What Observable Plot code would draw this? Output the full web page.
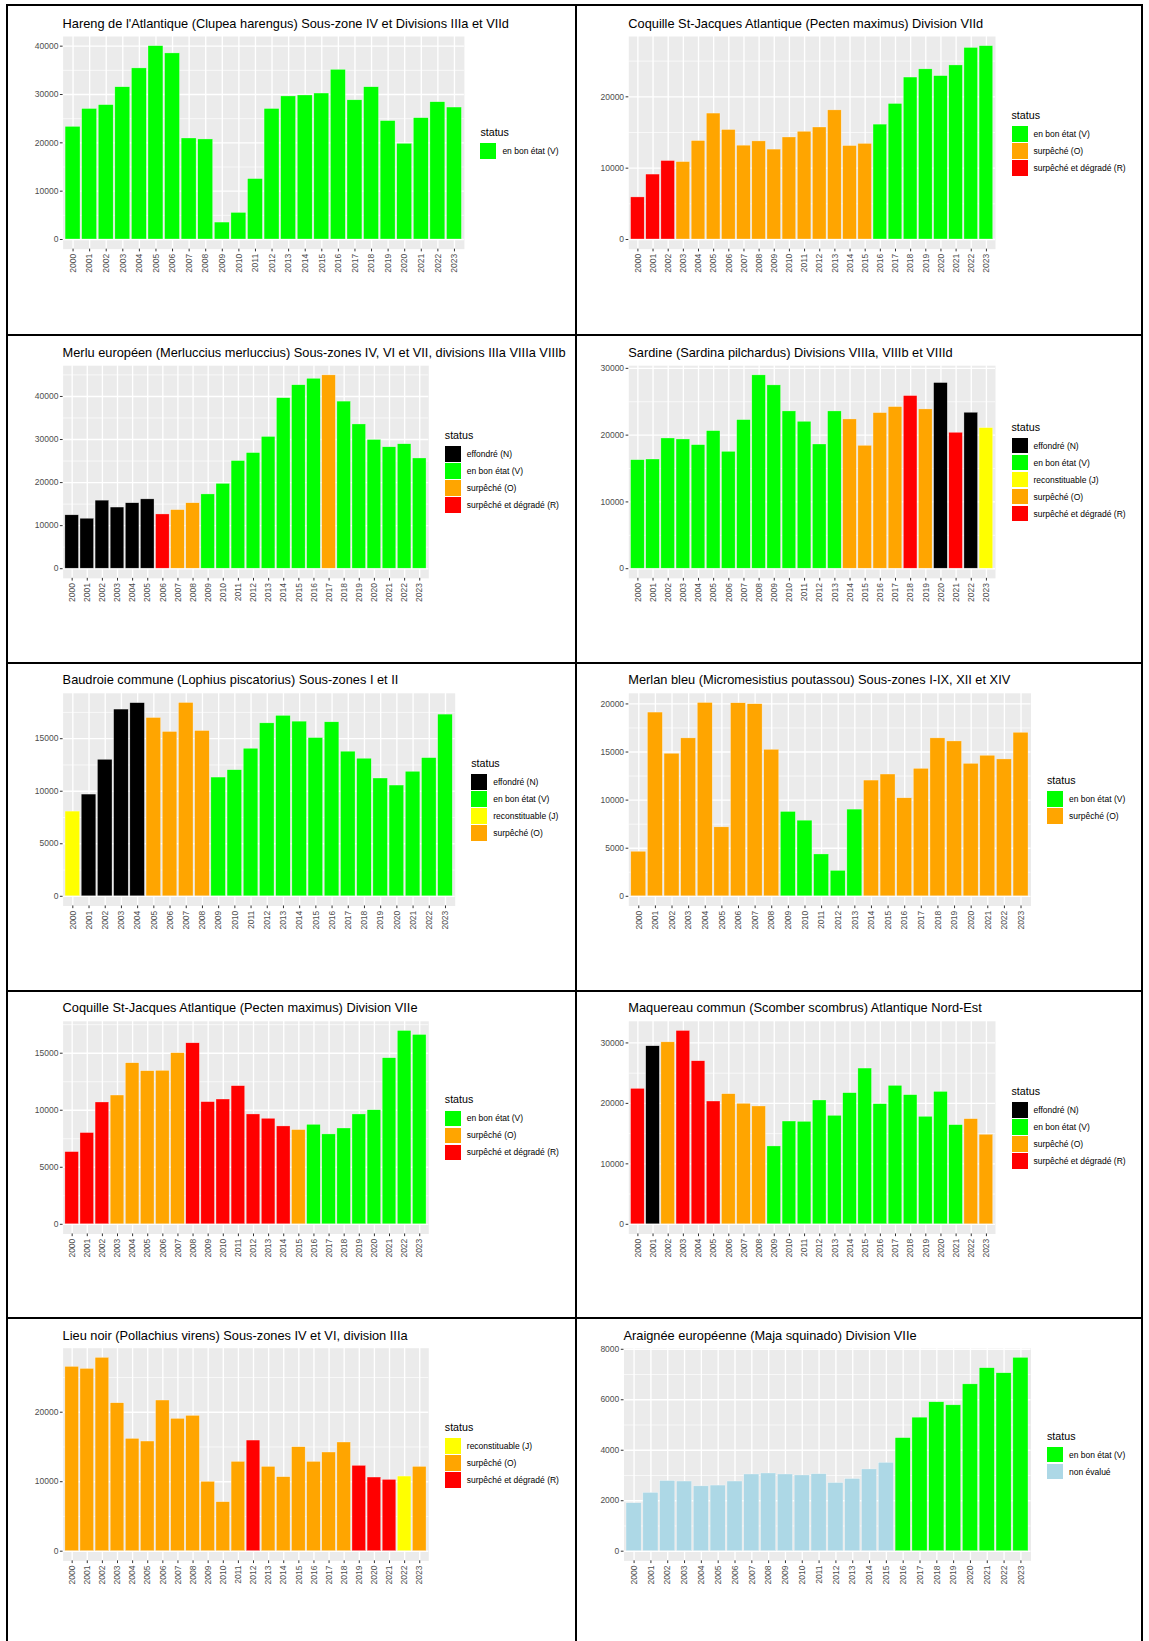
<!DOCTYPE html>
<html lang="fr">
<head>
<meta charset="utf-8">
<script src="https://cdn.jsdelivr.net/npm/d3@7"></script>
<script src="https://cdn.jsdelivr.net/npm/@observablehq/plot@0.6"></script>
<style>
html,body{margin:0;padding:0;background:#fff;}
#page{position:relative;width:1149px;height:1641px;overflow:hidden;background:#fff;font-family:"Liberation Sans",Arial,Helvetica,sans-serif;}
.cell{position:absolute;overflow:hidden;}
.cell svg{position:absolute;left:0;top:0;}
.rule{position:absolute;background:#000;z-index:5;}
.title{position:absolute;font-size:12.8px;line-height:14px;white-space:nowrap;color:#000;}
.lg-title{position:absolute;font-size:10.7px;line-height:12px;color:#000;white-space:nowrap;}
.lg-key{position:absolute;width:16px;height:15.6px;}
.lg-label{position:absolute;font-size:8.5px;line-height:10px;color:#000;white-space:nowrap;}
</style>
</head>
<body>
<div id="page"></div>
<script>
// ---------- DATA ----------
const years = ["2000","2001","2002","2003","2004","2005","2006","2007","2008","2009","2010","2011",
               "2012","2013","2014","2015","2016","2017","2018","2019","2020","2021","2022","2023"];

const statusCodes  = ["N", "V", "NE", "J", "O", "R"];
const statusLabels = ["effondré (N)", "en bon état (V)", "non évalué", "reconstituable (J)", "surpêché (O)", "surpêché et dégradé (R)"];
const statusColors = ["#000000", "#00FF00", "#ADD8E6", "#FFFF00", "#FFA500", "#FF0000"];

const harengTitle = "Hareng de l'Atlantique (Clupea harengus) Sous-zone IV et Divisions IIIa et VIId";
const harengValues = [23300,27000,27800,31500,35400,40000,38500,20900,20700,3500,5500,12500,27000,29600,29800,30200,35100,28800,31500,24500,19800,25100,28400,27300];
const harengStatus = ["V","V","V","V","V","V","V","V","V","V","V","V","V","V","V","V","V","V","V","V","V","V","V","V"];
const harengTicks = [0,10000,20000,30000,40000];

const csjVIIdTitle = "Coquille St-Jacques Atlantique (Pecten maximus) Division VIId";
const csjVIIdValues = [5900,9100,11000,10850,13800,17650,15350,13150,13750,12600,14300,15100,15700,18100,13100,13400,16100,19000,22700,23850,22900,24400,26850,27100];
const csjVIIdStatus = ["R","R","R","O","O","O","O","O","O","O","O","O","O","O","O","O","V","V","V","V","V","V","V","V"];
const csjVIIdTicks = [0,10000,20000];

const merluTitle = "Merlu européen (Merluccius merluccius) Sous-zones IV, VI et VII, divisions IIIa VIIIa VIIIb";
const merluValues = [12400,11600,15800,14200,15200,16100,12600,13600,15200,17250,19700,25000,26850,30600,39600,42600,44100,44900,38800,33500,29900,28200,28900,25600];
const merluStatus = ["N","N","N","N","N","N","R","O","O","V","V","V","V","V","V","V","V","O","V","V","V","V","V","V"];
const merluTicks = [0,10000,20000,30000,40000];

const sardineTitle = "Sardine (Sardina pilchardus) Divisions VIIIa, VIIIb et VIIId";
const sardineValues = [16250,16350,19500,19350,18500,20600,17500,22250,28950,27450,23550,22000,18600,23550,22350,18400,23300,24200,25850,23850,27800,20350,23350,21050];
const sardineStatus = ["V","V","V","V","V","V","V","V","V","V","V","V","V","V","O","O","O","O","R","O","N","R","N","J"];
const sardineTicks = [0,10000,20000,30000];

const baudroieTitle = "Baudroie commune (Lophius piscatorius) Sous-zones I et II";
const baudroieValues = [8060,9680,12990,17770,18380,16970,15640,18400,15730,11300,12000,14040,16460,17170,16620,15060,16560,13760,13090,11210,10540,11850,13150,17290];
const baudroieStatus = ["J","N","N","N","N","O","O","O","O","V","V","V","V","V","V","V","V","V","V","V","V","V","V","V"];
const baudroieTicks = [0,5000,10000,15000];

const merlanTitle = "Merlan bleu (Micromesistius poutassou) Sous-zones I-IX, XII et XIV";
const merlanValues = [4630,19100,14820,16420,20100,7170,20070,19970,15230,8770,7860,4350,2640,9010,12030,12660,10190,13250,16420,16100,13770,14610,14230,17000];
const merlanStatus = ["O","O","O","O","O","O","O","O","O","V","V","V","V","V","O","O","O","O","O","O","O","O","O","O"];
const merlanTicks = [0,5000,10000,15000,20000];

const csjVIIeTitle = "Coquille St-Jacques Atlantique (Pecten maximus) Division VIIe";
const csjVIIeValues = [6330,8000,10680,11290,14120,13420,13450,15000,15870,10710,10940,12110,9630,9250,8580,8260,8720,7880,8400,9630,10000,14560,16950,16600];
const csjVIIeStatus = ["R","R","R","O","O","O","O","O","R","R","R","R","R","R","R","O","V","V","V","V","V","V","V","V"];
const csjVIIeTicks = [0,5000,10000,15000];

const maquereauTitle = "Maquereau commun (Scomber scombrus) Atlantique Nord-Est";
const maquereauValues = [22400,29450,30100,31980,26970,20310,21520,19930,19490,12880,17000,16950,20480,17940,21690,25760,19870,22900,21360,17780,21900,16400,17390,14810];
const maquereauStatus = ["R","N","O","R","R","R","O","O","O","V","V","V","V","V","V","V","V","V","V","V","V","V","O","O"];
const maquereauTicks = [0,10000,20000,30000];

const lieuTitle = "Lieu noir (Pollachius virens) Sous-zones IV et VI, division IIIa";
const lieuValues = [26520,26230,27820,21290,16160,15780,21680,19040,19470,9980,7050,12850,15920,12130,10650,14960,12850,14200,15640,12280,10600,10260,10740,12130];
const lieuStatus = ["O","O","O","O","O","O","O","O","O","O","O","O","R","O","O","O","O","O","O","R","R","R","J","O"];
const lieuTicks = [0,10000,20000];

const araigneeTitle = "Araignée européenne (Maja squinado) Division VIIe";
const araigneeValues = [1900,2310,2780,2760,2570,2600,2760,3040,3080,3040,3000,3050,2700,2860,3240,3500,4480,5290,5900,5780,6610,7250,7050,7660];
const araigneeStatus = ["NE","NE","NE","NE","NE","NE","NE","NE","NE","NE","NE","NE","NE","NE","NE","NE","V","V","V","V","V","V","V","V"];
const araigneeTicks = [0,2000,4000,6000,8000];

// ---------- LAYOUT ----------
const panels = [
  {title: harengTitle, values: harengValues, status: harengStatus, ticks: harengTicks},
  {title: csjVIIdTitle, values: csjVIIdValues, status: csjVIIdStatus, ticks: csjVIIdTicks},
  {title: merluTitle, values: merluValues, status: merluStatus, ticks: merluTicks},
  {title: sardineTitle, values: sardineValues, status: sardineStatus, ticks: sardineTicks},
  {title: baudroieTitle, values: baudroieValues, status: baudroieStatus, ticks: baudroieTicks},
  {title: merlanTitle, values: merlanValues, status: merlanStatus, ticks: merlanTicks},
  {title: csjVIIeTitle, values: csjVIIeValues, status: csjVIIeStatus, ticks: csjVIIeTicks},
  {title: maquereauTitle, values: maquereauValues, status: maquereauStatus, ticks: maquereauTicks},
  {title: lieuTitle, values: lieuValues, status: lieuStatus, ticks: lieuTicks},
  {title: araigneeTitle, values: araigneeValues, status: araigneeStatus, ticks: araigneeTicks}
];

const colX = [7, 576, 1142];
const rowY = [5, 334.5, 662.5, 990.5, 1318.3, 1641];
const zeroY = [239, 567.7, 895.3, 1223.3, 1551];
const greyLR = [[62.6,463.9],[628.3,995],[62.6,428.3],[628.3,995],[62.6,454.7],
                [628.3,1030.5],[62.6,428.3],[628.3,995],[62.6,428.3],[623.5,1030.5]];
const PANEL_H = 203; // pixels from zero to 1.05*max

const page = document.getElementById("page");
const font = '"Liberation Sans", Arial, Helvetica, sans-serif';

panels.forEach((p, i) => {
  const col = i % 2, row = Math.floor(i / 2);
  const x0 = colX[col], y0 = rowY[row];
  const cw = colX[col + 1] - x0, ch = rowY[row + 1] - y0;
  const cell = document.createElement("div");
  cell.className = "cell";
  Object.assign(cell.style, {left: x0 + "px", top: y0 + "px", width: cw + "px", height: ch + "px"});
  page.appendChild(cell);

  const [gl, gr] = greyLR[i];
  const z = zeroY[row] - y0;
  const M = d3.max(p.values);
  const H = 285;
  const step = p.ticks[1] - p.ticks[0];
  const minor = p.ticks.map(t => t + step / 2).filter(t => t <= 1.05 * M);
  const data = years.map((year, j) => ({year, value: p.values[j], status: p.status[j]}));

  const chart = Plot.plot({
    width: cw, height: H,
    marginLeft: gl - x0, marginRight: cw - (gr - x0),
    marginTop: z - PANEL_H, marginBottom: H - (z + PANEL_H * 0.05 / 1.05),
    x: {type: "band", domain: years, paddingInner: 0.1, paddingOuter: 0.15, align: 0.5, round: false},
    y: {domain: [-0.05 * M, 1.05 * M]},
    color: {domain: statusCodes, range: statusColors},
    style: {background: "transparent", fontFamily: font, fontSize: "8.5px", overflow: "visible"},
    marks: [
      Plot.frame({fill: "#EBEBEB", stroke: "none"}),
      Plot.gridY(minor, {stroke: "white", strokeOpacity: 1, strokeWidth: 0.67}),
      Plot.gridY(p.ticks, {stroke: "white", strokeOpacity: 1, strokeWidth: 1.35}),
      Plot.gridX({stroke: "white", strokeOpacity: 1, strokeWidth: 1.35}),
      Plot.barY(data, {x: "year", y: "value", fill: "status", stroke: "white", strokeWidth: 0.5, strokeOpacity: 0.6}),
      Plot.axisY(p.ticks, {tickSize: 2.7, tickPadding: 2, tickFormat: d => String(d), label: null,
                           stroke: "#333333", fill: "#4D4D4D", fontSize: 8.5}),
      Plot.axisX({tickRotate: -90, tickSize: 2.7, tickPadding: 2, label: null,
                  stroke: "#333333", fill: "#4D4D4D", fontSize: 8.5})
    ]
  });
  cell.appendChild(chart);

  // title
  const t = document.createElement("div");
  t.className = "title";
  t.textContent = p.title;
  const baseline = zeroY[row] - 210.5 - y0;
  Object.assign(t.style, {left: (gl - x0) + "px", top: (baseline - 11.4) + "px"});
  cell.appendChild(t);

  // legend
  const present = statusCodes.filter(c => p.status.includes(c));
  const n = present.length;
  const lc = zeroY[row] - 96 - y0;
  const keysTop = lc - (n * 17 + 16) / 2 + 16;
  const keyLeft = gr + 16.5 - x0;
  const lt = document.createElement("div");
  lt.className = "lg-title";
  lt.textContent = "status";
  Object.assign(lt.style, {left: keyLeft + "px", top: (keysTop - 10.5 - 5.85) + "px"});
  cell.appendChild(lt);
  present.forEach((c, k) => {
    const idx = statusCodes.indexOf(c);
    const key = document.createElement("div");
    key.className = "lg-key";
    Object.assign(key.style, {left: keyLeft + "px", top: (keysTop + k * 17 + 0.7) + "px", background: statusColors[idx]});
    cell.appendChild(key);
    const lab = document.createElement("div");
    lab.className = "lg-label";
    lab.textContent = statusLabels[idx];
    Object.assign(lab.style, {left: (keyLeft + 22) + "px", top: (keysTop + k * 17 + 8.5 - 4.94) + "px"});
    cell.appendChild(lab);
  });
});

// grid borders
function rule(l, t, w, h) {
  const d = document.createElement("div");
  d.className = "rule";
  Object.assign(d.style, {left: l + "px", top: t + "px", width: w + "px", height: h + "px"});
  page.appendChild(d);
}
colX.forEach(x => rule(x - 1, rowY[0] - 1, 2, 1641));
rowY.slice(0, 5).forEach(y => rule(colX[0] - 1, y - 1, colX[2] - colX[0] + 2, 2));
</script>
</body>
</html>
